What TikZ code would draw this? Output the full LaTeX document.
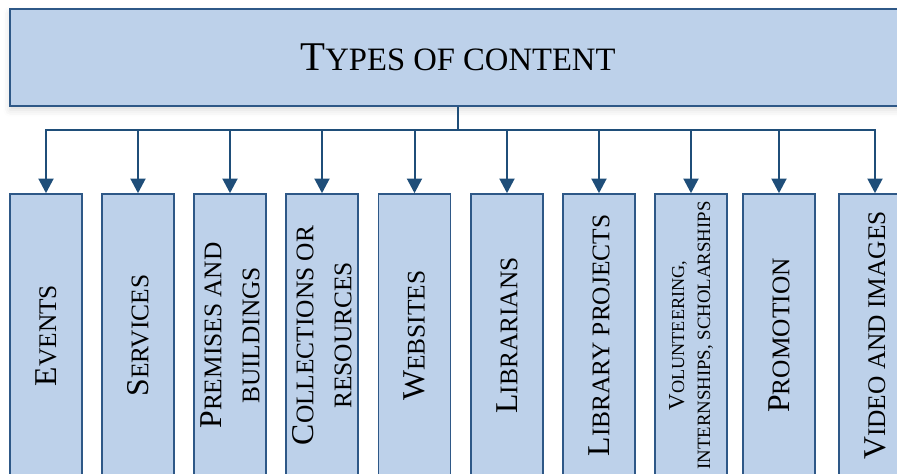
\documentclass[tikz,border=0pt]{standalone}
\usepackage{fontspec}
\setmainfont{Liberation Serif}
\usetikzlibrary{arrows.meta,shadows.blur}

\definecolor{boxfill}{RGB}{189,209,234}
\definecolor{boxline}{RGB}{46,88,135}
\definecolor{connline}{RGB}{31,78,121}

% small capitals drawn as capitals at 80% of the current size
\makeatletter
\newcommand\fsc[1]{{\fontsize{\fpeval{0.8*\f@size}}{\f@baselineskip}\selectfont #1}}
\makeatother

\tikzset{
  headbox/.style={draw=boxline, line width=1.2pt, fill=boxfill, inner sep=0pt,
    minimum width=672pt, minimum height=72.75pt,
    font=\fontsize{30.6pt}{36pt}\selectfont,
    blur shadow={shadow xshift=0pt, shadow yshift=-3pt, shadow blur radius=5pt, shadow opacity=14}},
  subbox/.style={draw=boxline, line width=1.2pt, fill=boxfill, inner sep=0pt,
    rotate=90, minimum width=212.25pt, minimum height=54pt, align=center,
    font=\fontsize{23.8pt}{28.5pt}\selectfont},
  smallsub/.style={subbox, font=\fontsize{17.1pt}{19.5pt}\selectfont},
  conn/.style={draw=connline, line width=1.5pt},
  tip/.style={-{Triangle[width=11.25pt, length=11pt]}},
  tips/.style={{Triangle[width=11.25pt, length=11pt]}-{Triangle[width=11.25pt, length=11pt]}}
}

\begin{document}
\begin{tikzpicture}[x=0.75pt, y=-0.75pt]
  \useasboundingbox (0,0) rectangle (897,474);
  \clip (0,0) rectangle (897,474);

  % heading
  \node[headbox] (top) at (458,57.5) {T\fsc{YPES OF CONTENT}};

  % content types
  \node[subbox] (b1)  at (46,335.5)  {E\fsc{VENTS}};
  \node[subbox] (b2)  at (138,335.5) {S\fsc{ERVICES}};
  \node[subbox] (b3)  at (230,335.5) {P\fsc{REMISES AND}\\\fsc{BUILDINGS}};
  \node[subbox] (b4)  at (322,335.5) {C\fsc{OLLECTIONS OR}\\\fsc{RESOURCES}};
  \node[subbox] (b5)  at (414.5,335.5) {W\fsc{EBSITES}};
  \node[subbox] (b6)  at (507,335.5) {L\fsc{IBRARIANS}};
  \node[subbox] (b7)  at (599,335.5) {L\fsc{IBRARY PROJECTS}};
  \node[smallsub] (b8) at (691,335.5) {V\fsc{OLUNTEERING,}\\{\fontsize{14.1pt}{19.5pt}\selectfont INTERNSHIPS, SCHOLARSHIPS}};
  \node[subbox] (b9)  at (779,335.5) {P\fsc{ROMOTION}};
  \node[subbox] (b10) at (875,335.5) {V\fsc{IDEO AND IMAGES}};

  % connectors
  \coordinate (bus) at (458,130);
  \draw[conn] (top.south) -- (bus);
  \draw[conn, tips, line join=miter] (b1.east) -- (b1.east |- bus) -- (b10.east |- bus) -- (b10.east);
  \foreach \i in {2,...,9}
    \draw[conn, tip] (b\i.east |- bus) -- (b\i.east);
\end{tikzpicture}
\end{document}
